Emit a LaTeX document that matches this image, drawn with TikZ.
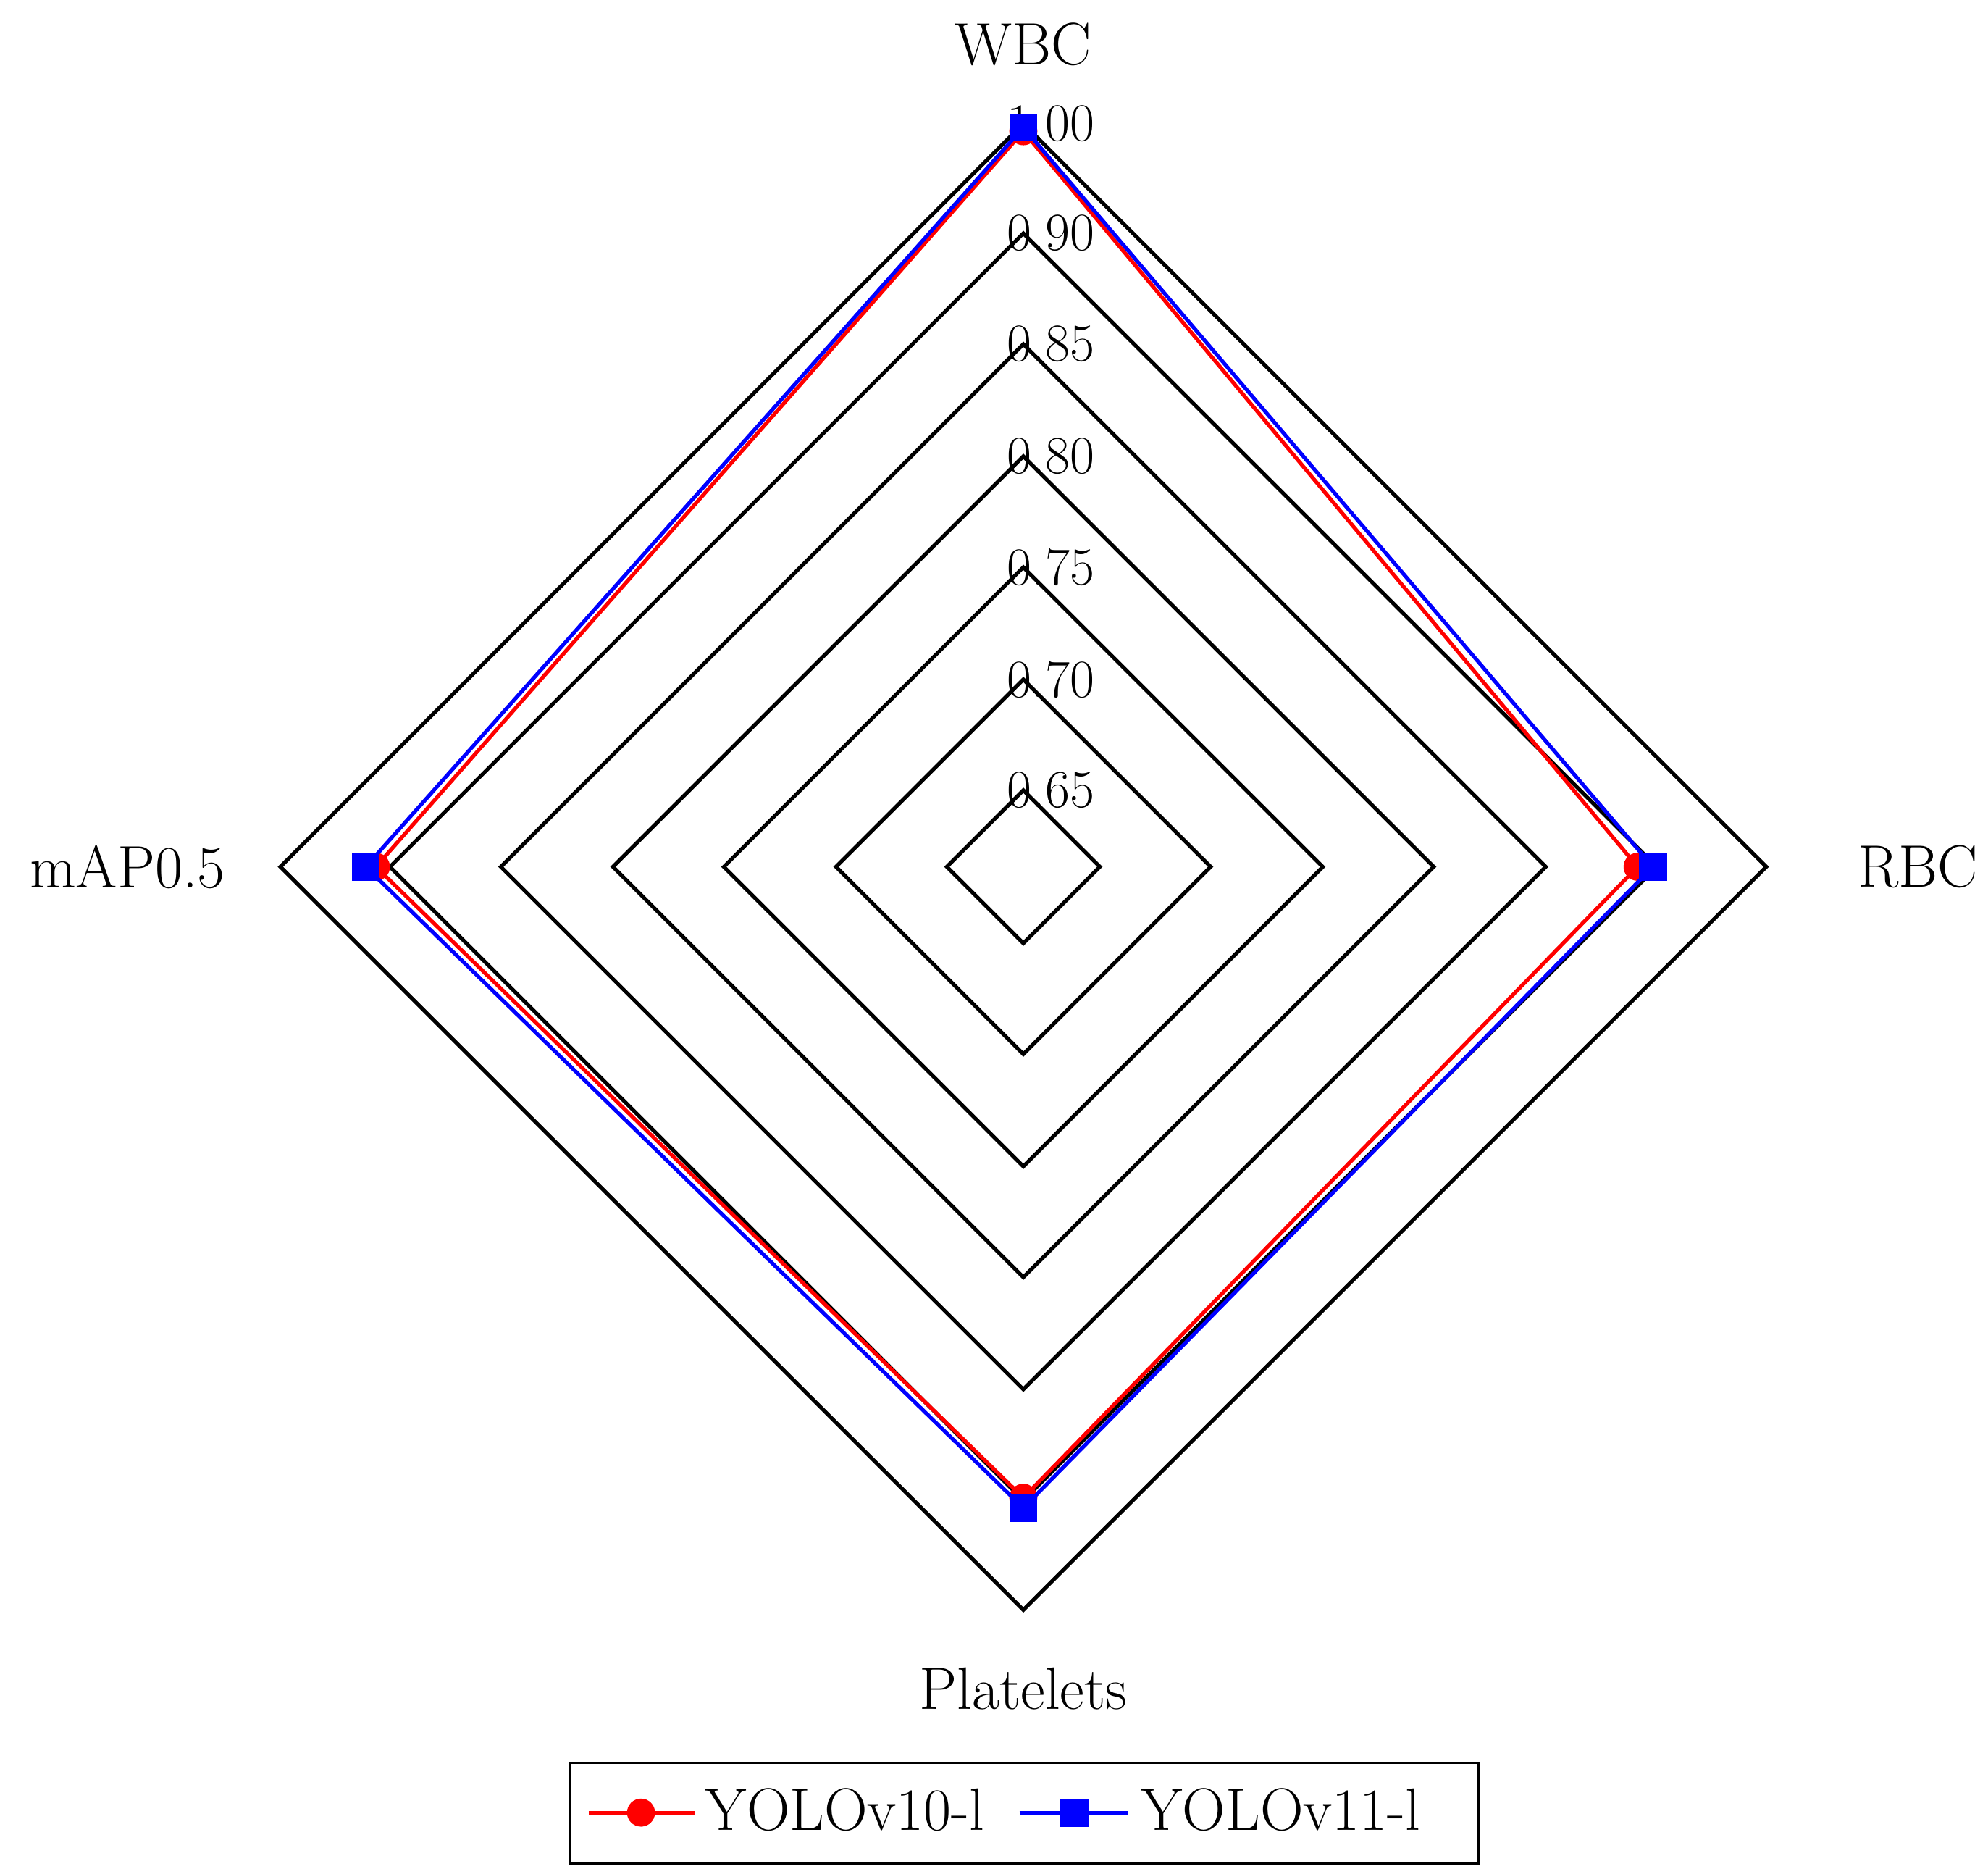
\documentclass[tikz,border=0pt]{standalone}
\begin{document}
\begin{tikzpicture}[x=0.5pt,y=-0.5pt,
  ring/.style={draw=black,line width=1.5pt},
  lbl/.style={font=\fontsize{23.5}{27}\selectfont,inner sep=0pt},
  tick/.style={font=\fontsize{21}{25}\selectfont,inner sep=0pt,anchor=west},
  ser/.style={line width=1.5pt},
  sq/.style={fill=blue,inner sep=0pt,minimum size=11pt,draw=none}]
\useasboundingbox (0,0) rectangle (1560,1466);
\coordinate (c) at (803,680);
\foreach \r/\t in {60/0.65,147/0.70,235/0.75,322/0.80,410/0.85,497/0.90,583/1.00}{
  \draw[ring] (803,680-\r) -- (803+\r,680) -- (803,680+\r) -- (803-\r,680) -- cycle;
  \node[tick] (t\r) at (790,680-\r) {\t};
}
\node[lbl] (wbc) at (803,35) {WBC};
\node[lbl] (rbc) at (1505,680) {RBC};
\node[lbl] (plt) at (803,1325) {Platelets};
\node[lbl] (map) at (100,680) {mAP0.5};
% YOLOv10-l
\draw[ser,red] (803,103) -- (1285,680) -- (803,1175) -- (295,680) -- cycle;
\foreach \p in {(803,103),(1285,680),(803,1175),(295,680)} \fill[red] \p circle (11);
% YOLOv11-l
\draw[ser,blue] (803,100) -- (1297,680) -- (803,1183) -- (287,680) -- cycle;
\foreach \p in {(803,100),(1297,680),(803,1183),(287,680)} \node[sq] at \p {};
% legend
\node[draw=black,line width=1pt,minimum width=356.5pt,minimum height=39.5pt] (leg) at (803.5,1422.5) {};
\coordinate (r1) at (462,1422); \coordinate (r2) at (545,1422);
\draw[ser,red] (r1) -- (r2); \fill[red] (503,1422) circle (11);
\node[lbl,anchor=west] (l1) at (553,1420) {YOLOv10-l};
\coordinate (b1) at (800,1422); \coordinate (b2) at (885,1422);
\draw[ser,blue] (b1) -- (b2); \node[sq] (bm) at (843,1422) {};
\node[lbl,anchor=west] (l2) at (895,1420) {YOLOv11-l};
\end{tikzpicture}
\end{document}
